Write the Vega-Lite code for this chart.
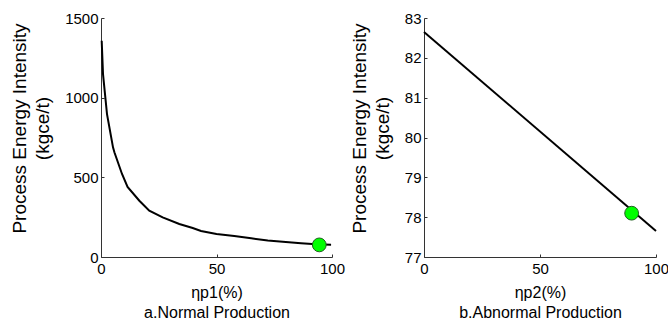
{
  "$schema": "https://vega.github.io/schema/vega-lite/v6.json",
  "padding": {"left": 10, "top": 11, "right": 0, "bottom": 5},
  "bounds": "flush",
  "spacing": 92,
  "background": "white",
  "config": {
    "view": {"stroke": null},
    "font": "Liberation Sans",
    "axis": {
      "grid": false,
      "domainColor": "#333",
      "domainWidth": 1,
      "tickColor": "#333",
      "tickSize": -3,
      "labelFont": "Liberation Sans",
      "labelFontSize": 15,
      "labelColor": "black",
      "labelOverlap": false,
      "format": "d",
      "titleFont": "Liberation Sans",
      "titleFontWeight": "normal",
      "titleColor": "black"
    },
    "axisX": {"labelPadding": 7, "titleFontSize": 16, "titleLineHeight": 20, "titlePadding": 8, "labelFlush": false},
    "axisY": {"labelPadding": 6, "titleFontSize": 19, "titleLineHeight": 23, "titlePadding": 12, "titleY": 110}
  },
  "datasets": {
    "normal": [
      {"eta": 0.3, "energy": 1357},
      {"eta": 0.87, "energy": 1148},
      {"eta": 2.6, "energy": 897},
      {"eta": 5.2, "energy": 688},
      {"eta": 5.8, "energy": 657},
      {"eta": 9.1, "energy": 521},
      {"eta": 11.5, "energy": 440},
      {"eta": 16.6, "energy": 353},
      {"eta": 20.9, "energy": 291},
      {"eta": 26.7, "energy": 249},
      {"eta": 33.9, "energy": 207},
      {"eta": 39.7, "energy": 182},
      {"eta": 43.3, "energy": 163},
      {"eta": 50, "energy": 145},
      {"eta": 57.7, "energy": 132},
      {"eta": 65, "energy": 117},
      {"eta": 72.2, "energy": 104},
      {"eta": 80, "energy": 94},
      {"eta": 86.6, "energy": 86},
      {"eta": 93, "energy": 80},
      {"eta": 99.6, "energy": 77}
    ],
    "normalPoint": [{"eta": 94.5, "energy": 76}],
    "abnormal": [
      {"eta": 0, "energy": 82.65},
      {"eta": 100, "energy": 77.65}
    ],
    "abnormalPoint": [{"eta": 89.5, "energy": 78.1}]
  },
  "hconcat": [
    {
      "width": 231,
      "height": 239,
      "encoding": {
        "x": {"field": "eta", "type": "quantitative", "scale": {"domain": [0, 100], "nice": false},
              "axis": {"values": [0, 50, 100], "labelOverlap": false, "title": ["ηp1(%)", "a.Normal Production"]}},
        "y": {"field": "energy", "type": "quantitative", "scale": {"domain": [0, 1500], "nice": false},
              "axis": {"values": [0, 500, 1000, 1500], "labelOverlap": false, "title": ["Process Energy Intensity", "(kgce/t)"]}}
      },
      "layer": [
        {
          "data": {"name": "normal"},
          "mark": {"type": "line", "color": "black", "strokeWidth": 2}
        },
        {
          "data": {"name": "normalPoint"},
          "mark": {"type": "point", "shape": "circle", "filled": true, "fill": "#00ff00", "stroke": "#1f5f1f", "strokeWidth": 1, "size": 190, "opacity": 1}
        }
      ]
    },
    {
      "width": 232,
      "height": 239,
      "encoding": {
        "x": {"field": "eta", "type": "quantitative", "scale": {"domain": [0, 100], "nice": false},
              "axis": {"values": [0, 50, 100], "labelOverlap": false, "title": ["ηp2(%)", "b.Abnormal Production"]}},
        "y": {"field": "energy", "type": "quantitative", "scale": {"domain": [77, 83], "nice": false, "zero": false},
              "axis": {"values": [77, 78, 79, 80, 81, 82, 83], "labelOverlap": false, "title": ["Process Energy Intensity", "(kgce/t)"]}}
      },
      "layer": [
        {
          "data": {"name": "abnormal"},
          "mark": {"type": "line", "color": "black", "strokeWidth": 2}
        },
        {
          "data": {"name": "abnormalPoint"},
          "mark": {"type": "point", "shape": "circle", "filled": true, "fill": "#00ff00", "stroke": "#1f5f1f", "strokeWidth": 1, "size": 190, "opacity": 1}
        }
      ]
    }
  ]
}
